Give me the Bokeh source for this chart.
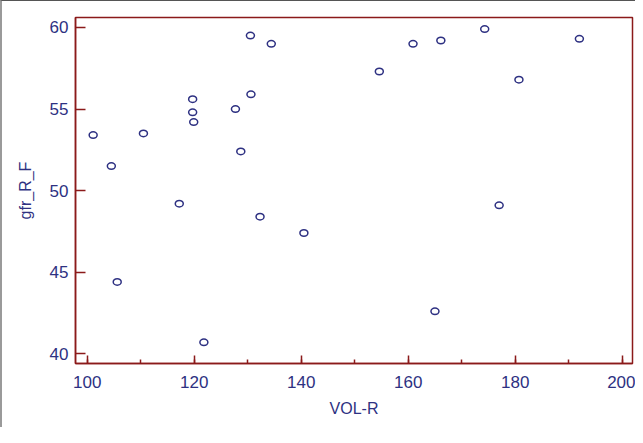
from bokeh.plotting import figure
from bokeh.models import SingleIntervalTicker, Range1d, ColumnDataSource
from bokeh.embed import file_html
from bokeh.resources import INLINE

vol_r = [101.1, 104.5, 105.6, 110.5, 117.2, 119.7, 119.7, 119.9, 121.8, 127.7,
         128.7, 130.5, 130.6, 132.3, 134.4, 140.5, 154.6, 160.9, 165.0, 166.1,
         174.3, 177.0, 180.7, 192.0]
gfr_r_f = [53.4, 51.5, 44.4, 53.5, 49.2, 55.6, 54.8, 54.2, 40.7, 55.0,
           52.4, 59.5, 55.9, 48.4, 59.0, 47.4, 57.3, 59.0, 42.6, 59.2,
           59.9, 49.1, 56.8, 59.3]
x_label = "VOL-R"
y_label = "gfr_R_F"

navy = "#2E3182"
red = "#8B1A1A"
font = "Liberation Sans"

p = figure(width=635, height=427, output_backend="svg", toolbar_location=None,
           x_range=Range1d(97.8, 201.93), y_range=Range1d(39.4, 60.61),
           min_border_left=73, min_border_top=16, min_border_right=5, min_border_bottom=65,
           background_fill_color="white", border_fill_color="white",
           styles={"border-left": "2px solid #9a9a9a", "border-top": "1px solid #555555"})
p.outline_line_color = red
p.outline_line_width = 1.5
p.xgrid.visible = False
p.ygrid.visible = False

src = ColumnDataSource(dict(x=vol_r, y=gfr_r_f))
p.ellipse(x="x", y="y", width=8, height=6.5, width_units="screen", height_units="screen",
          source=src, fill_color=None, line_color=navy, line_width=1.5)

p.xaxis.ticker = SingleIntervalTicker(interval=20, num_minor_ticks=2)
p.yaxis.ticker = SingleIntervalTicker(interval=5, num_minor_ticks=0)
p.xaxis.axis_label = x_label
p.yaxis.axis_label = y_label

for ax in (p.xaxis[0], p.yaxis[0]):
    ax.axis_line_color = red
    ax.axis_line_width = 1.5
    ax.major_tick_line_color = red
    ax.minor_tick_line_color = red
    ax.major_tick_line_width = 1.5
    ax.minor_tick_line_width = 1.5
    ax.major_tick_out = 0
    ax.minor_tick_out = 0
    ax.major_label_text_color = navy
    ax.major_label_text_font = font
    ax.major_label_text_font_size = "17px"
    ax.axis_label_text_color = navy
    ax.axis_label_text_font = font
    ax.axis_label_text_font_size = "16px"
    ax.axis_label_text_font_style = "normal"

p.xaxis.major_tick_in = 8
p.xaxis.minor_tick_in = 4
p.xaxis.major_label_standoff = 12
p.xaxis.axis_label_standoff = 9
p.yaxis.major_tick_in = 10
p.yaxis.minor_tick_in = 0
p.yaxis.major_label_standoff = 7
p.yaxis.axis_label_standoff = 13

open("out.html", "w").write(file_html(p, INLINE))
